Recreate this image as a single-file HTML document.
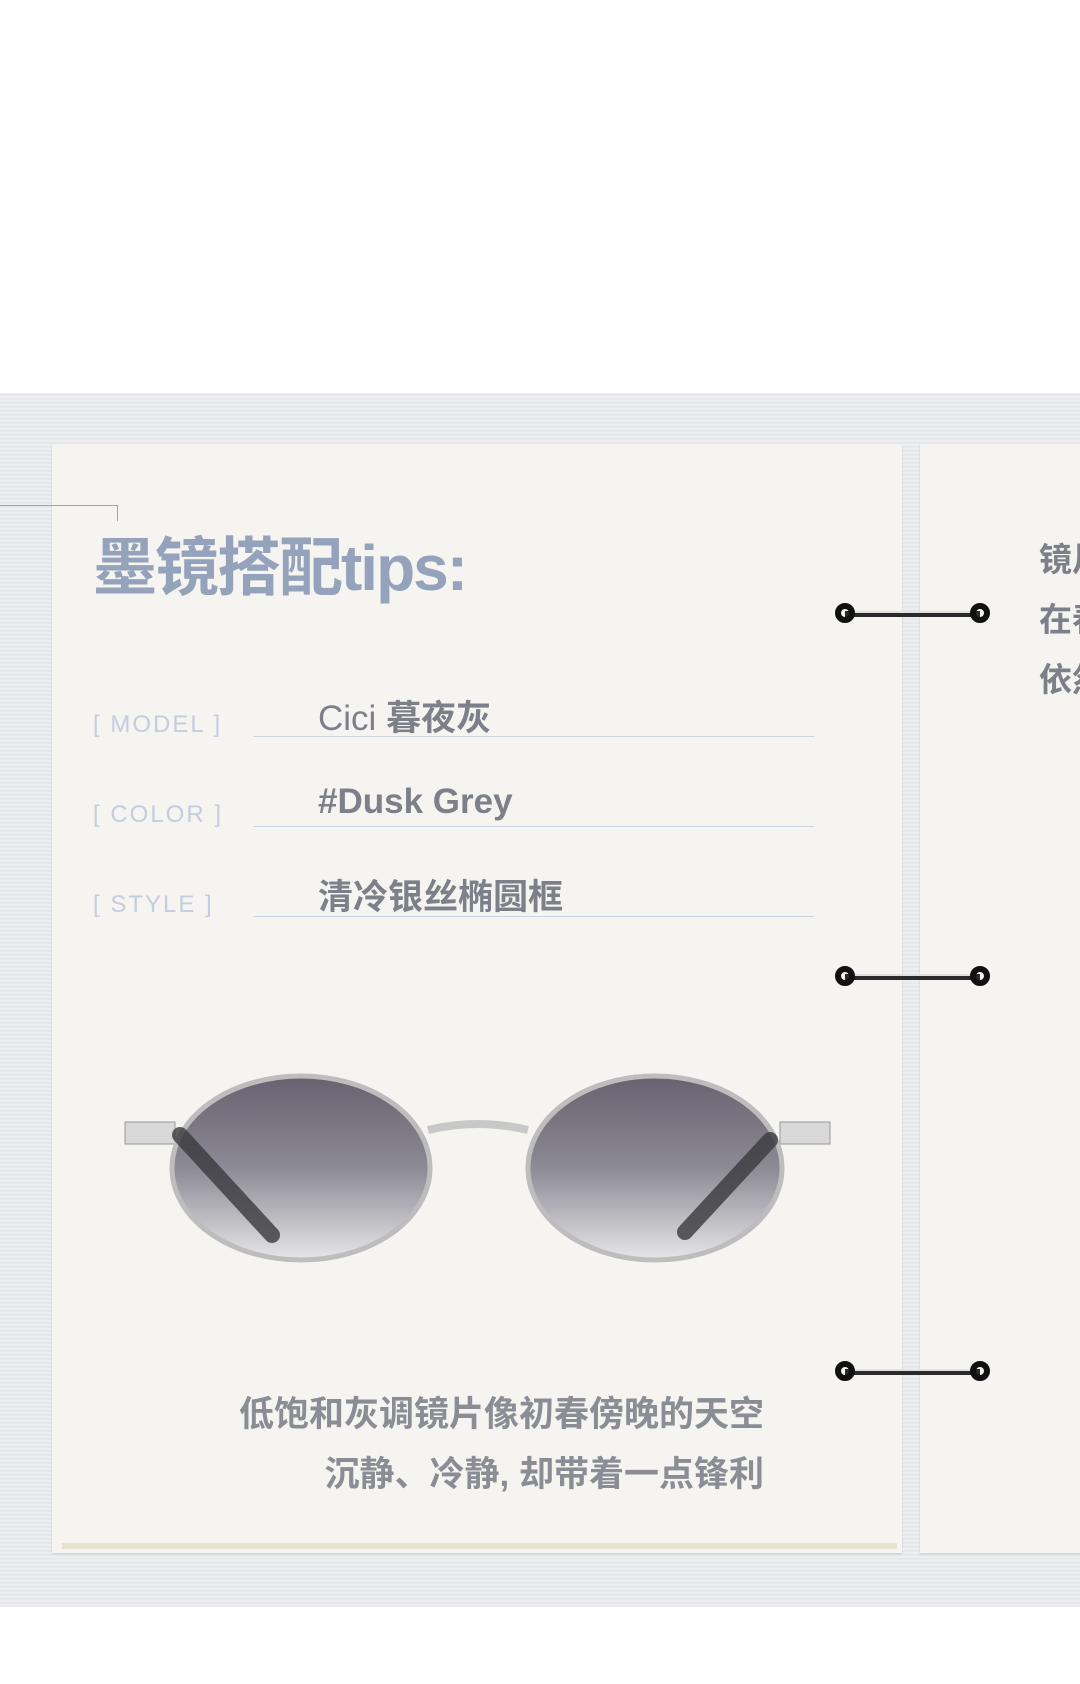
<!DOCTYPE html>
<html><head><meta charset="utf-8"><style>
body{margin:0;width:1080px;height:1684px;background:#fff;position:relative;overflow:hidden;font-family:"Liberation Sans","Noto Sans CJK SC",sans-serif}
.bg{position:absolute;left:0;top:393px;width:1080px;height:1214px;background:repeating-linear-gradient(0deg,#e4e6e9 0 1px,#eceef0 1px 3px,#e7e9ec 3px 4px);}
.page{position:absolute;top:444px;height:1109px;background:#f5f4f1;box-shadow:0 1px 2px rgba(0,0,0,.15)}
.t{position:absolute;white-space:nowrap}
.lab{color:#c3cddd;font-size:24px;letter-spacing:2px}
.val{color:#7d8089;font-size:35px;font-weight:bold}
.ul{position:absolute;left:253px;width:561px;height:1px;background:#cdd5e0}
</style></head><body>
<div class="bg"></div>
<div class="page" style="left:52px;width:850px"></div>
<div style="position:absolute;left:62px;top:1543px;width:835px;height:6px;background:#e9e2cc"></div>
<div class="page" style="left:920px;width:170px"></div>
<div style="position:absolute;left:0;top:505px;width:117px;height:1px;background:#9aa6b8"></div>
<div style="position:absolute;left:117px;top:505px;width:1px;height:16px;background:#9aa6b8"></div>
<div class="t" style="left:93px;top:517px;font-size:64px;font-weight:bold;color:#94a3bb;letter-spacing:-2px">墨镜搭配tips:</div>
<div class="t lab" style="left:93px;top:711px">[ MODEL ]</div>
<div class="t lab" style="left:93px;top:801px">[ COLOR ]</div>
<div class="t lab" style="left:93px;top:891px">[ STYLE ]</div>
<div class="t val" style="left:318px;top:690px;font-weight:normal;color:#7d8089">Cici <b>暮夜灰</b></div>
<div class="t val" style="left:318px;top:782px">#Dusk Grey</div>
<div class="t val" style="left:318px;top:869px">清冷银丝椭圆框</div>
<div class="ul" style="top:736px"></div>
<div class="ul" style="top:826px"></div>
<div class="ul" style="top:916px"></div>
<div class="t val" style="left:1039px;top:530px;font-size:33px;line-height:60px">镜片<br>在春<br>依然</div>
<svg style="position:absolute;left:0;top:0" width="1080" height="1684">
<defs><linearGradient id="lg" x1="0" y1="0" x2="0" y2="1"><stop offset="0" stop-color="#67626f"/><stop offset=".5" stop-color="#8c8a94"/><stop offset="1" stop-color="#e6e5e8"/></linearGradient></defs>
<g id="rg">
<path d="M845 614 L980 614" stroke="#2a2a2a" stroke-width="6"/>
<path d="M850 612 L976 612" stroke="#e0e0e0" stroke-width="2"/>
<circle cx="845" cy="613" r="7" fill="none" stroke="#111" stroke-width="6"/>
<circle cx="980" cy="613" r="7" fill="none" stroke="#111" stroke-width="6"/>
</g>
<use href="#rg" y="363"/><use href="#rg" y="758"/>
<rect x="125" y="1122" width="50" height="22" fill="#d8d8d8" stroke="#999"/>
<rect x="780" y="1122" width="50" height="22" fill="#d8d8d8" stroke="#999"/>
<ellipse cx="301" cy="1168" rx="129" ry="92" fill="url(#lg)" stroke="#bdbdbd" stroke-width="5"/>
<ellipse cx="655" cy="1168" rx="127" ry="92" fill="url(#lg)" stroke="#bdbdbd" stroke-width="5"/>
<path d="M180 1135 L272 1235" stroke="#3a3a3f" stroke-width="16" stroke-linecap="round" opacity=".8"/>
<path d="M770 1140 L685 1232" stroke="#3a3a3f" stroke-width="16" stroke-linecap="round" opacity=".8"/>
<path d="M428 1130 Q478 1118 528 1130" stroke="#c8c8c8" stroke-width="8" fill="none"/>
</svg>
<div class="t val" style="right:316px;top:1386px;color:#8a8d94">低饱和灰调镜片像初春傍晚的天空</div>
<div class="t val" style="right:316px;top:1446px;color:#8a8d94">沉静、冷静, 却带着一点锋利</div>
</body></html>
